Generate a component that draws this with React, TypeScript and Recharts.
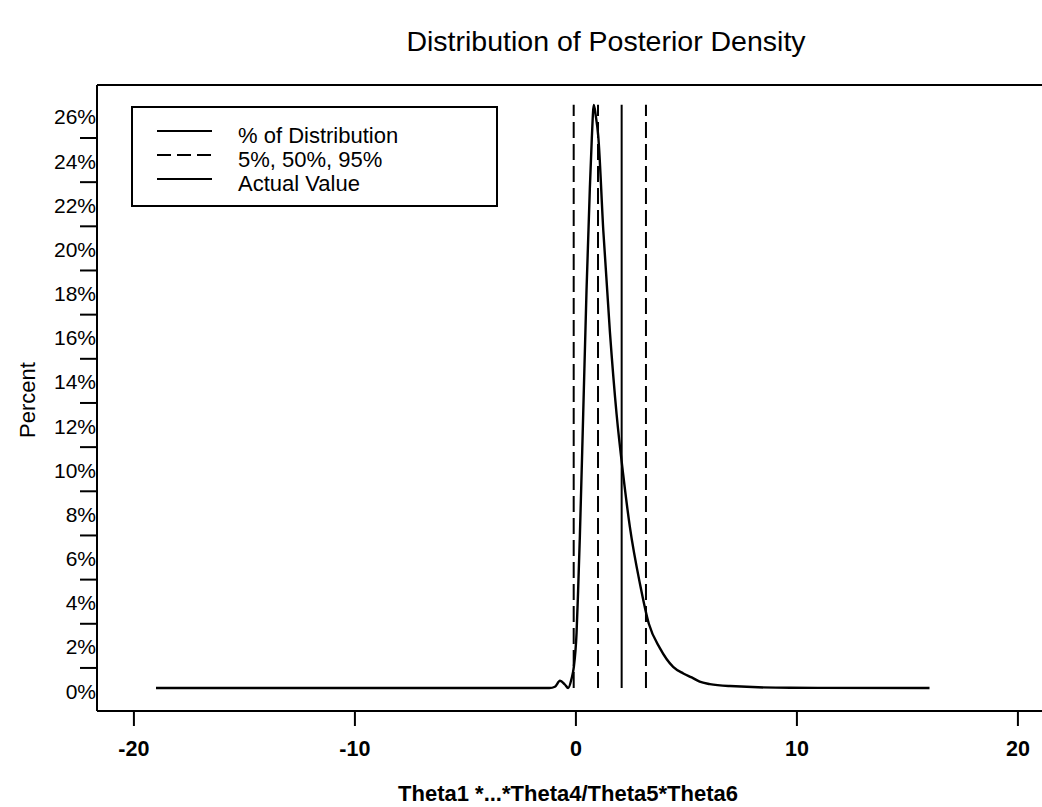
import React from "react";
import { LineChart, Line, XAxis, YAxis, ReferenceLine, Legend } from "recharts";

// ---- data ----
const thetaValues = [-19, -10, -2, -1.2, -0.95, -0.72, -0.5, -0.35, -0.2, -0.1, 0.03, 0.1, 0.18, 0.33, 0.48, 0.63, 0.72, 0.81, 0.9, 1.01, 1.24, 1.54, 1.84, 2.14, 2.44, 2.9, 3.3, 3.8, 4.4, 4.86, 5.24, 5.6, 6.06, 6.97, 9.7, 16];
const percentValues = [0.09, 0.09, 0.09, 0.09, 0.15, 0.42, 0.25, 0.09, 0.5, 1.0, 2.6, 4.5, 7.0, 12.5, 18.1, 22.7, 25.0, 26.5, 26.0, 25.1, 20.8, 16.2, 12.5, 9.75, 7.4, 4.8, 3.0, 1.9, 1.05, 0.75, 0.57, 0.38, 0.27, 0.18, 0.1, 0.09];
const quantileValues = [-0.1, 1.0, 3.17]; // 5%, 50%, 95%
const actualValue = 2.07;
const lineTop = 26.5;
const lineBottom = 0.09;
const xTicks = [-20, -10, 0, 10, 20];
const yTicks = Array.from({ length: 27 }, (_, i) => i);
const legendLabels = ["% of Distribution", "5%, 50%, 95%", "Actual Value"];
const titleText = "Distribution of Posterior Density";
const xTitle = "Theta1 *...*Theta4/Theta5*Theta6";
const yTitle = "Percent";

const chartData = thetaValues.map((x, i) => ({ x, y: percentValues[i] }));

const FONT = "'Liberation Sans', Arial, Helvetica, sans-serif";
const W = 1042;
const H = 807;
const Y_AXIS_W = 60;
const X_AXIS_H = 60;
const TOP_AXIS_H = 10;
// plot: left 97, top 85, right 1042, bottom 711
const M = { top: 85 - TOP_AXIS_H, right: 0, bottom: H - 711 - X_AXIS_H, left: 97 - Y_AXIS_W };

const YTick = (props: any) => {
  const { x, y, payload } = props;
  const v = payload.value;
  if (v % 2 === 1) {
    return <line x1={x - 17} x2={x} y1={y} y2={y} stroke="#000" strokeWidth={2} />;
  }
  return (
    <text x={x - 1} y={y + 1} textAnchor="end" dominantBaseline="central" fontSize={21} fontFamily={FONT} fill="#000">
      {v}%
    </text>
  );
};

const XTick = (props: any) => {
  const { x, y, payload } = props;
  return (
    <g>
      <line x1={x} x2={x} y1={y} y2={y + 15} stroke="#000" strokeWidth={2} />
      <text x={x} y={y + 38} textAnchor="middle" dominantBaseline="central" fontSize={21.5} fontWeight="bold" fontFamily={FONT} fill="#000">
        {payload.value}
      </text>
    </g>
  );
};

const LegendBox = () => (
  <svg width={367} height={101} style={{ display: "block" }}>
    <rect x={1} y={1} width={365} height={99} fill="#fff" stroke="#000" strokeWidth={2} />
    {legendLabels.map((label, i) => {
      const cy = 25 + i * 24;
      return (
        <g key={label}>
          <line x1={26} x2={81} y1={cy} y2={cy} stroke="#000" strokeWidth={2} strokeDasharray={i === 1 ? "14 6" : undefined} />
          <text x={107} y={cy + 4} dominantBaseline="central" fontSize={22} fontFamily={FONT} fill="#000">
            {label}
          </text>
        </g>
      );
    })}
  </svg>
);

export default function App() {
  return (
    <div style={{ position: "absolute", left: 0, top: 0, width: W, height: H, background: "#fff", fontFamily: FONT, overflow: "hidden" }}>
      <LineChart width={W} height={H} data={chartData} margin={M}>
        <XAxis
          dataKey="x"
          type="number"
          domain={[-21.67, 21.09]}
          allowDataOverflow
          ticks={xTicks}
          interval={0}
          height={X_AXIS_H}
          tickSize={0}
          tickMargin={0}
          tickLine={false}
          axisLine={{ stroke: "#000", strokeWidth: 2 }}
          tick={<XTick />}
        />
        <XAxis
          xAxisId="top"
          orientation="top"
          type="number"
          dataKey="x"
          domain={[-21.67, 21.09]}
          allowDataOverflow
          height={TOP_AXIS_H}
          tick={false}
          tickLine={false}
          axisLine={{ stroke: "#000", strokeWidth: 2 }}
        />
        <YAxis
          type="number"
          domain={[-0.95, 27.4]}
          allowDataOverflow
          ticks={yTicks}
          interval={0}
          width={Y_AXIS_W}
          tickSize={0}
          tickMargin={0}
          tickLine={false}
          axisLine={{ stroke: "#000", strokeWidth: 2 }}
          tick={<YTick />}
        />
        {quantileValues.map((q) => (
          <ReferenceLine
            key={q}
            segment={[{ x: q, y: lineBottom }, { x: q, y: lineTop }]}
            stroke="#000"
            strokeWidth={2}
            strokeDasharray="16 6"
          />
        ))}
        <ReferenceLine
          segment={[{ x: actualValue, y: lineBottom }, { x: actualValue, y: lineTop }]}
          stroke="#000"
          strokeWidth={2}
        />
        <Line type="monotone" dataKey="y" stroke="#000" strokeWidth={2.4} dot={false} isAnimationActive={false} />
        <Legend
          layout="vertical"
          align="center"
          verticalAlign="middle"
          wrapperStyle={{ left: 131, top: 106, width: 367, height: 101 }}
          content={() => <LegendBox />}
        />
      </LineChart>
      <svg width={W} height={H} style={{ position: "absolute", left: 0, top: 0, pointerEvents: "none" }}>
        <text x={606} y={41} textAnchor="middle" dominantBaseline="central" fontSize={28.5} fontFamily={FONT} fill="#000">
          {titleText}
        </text>
        <text x={568} y={793} textAnchor="middle" dominantBaseline="central" fontSize={22} fontWeight="bold" fontFamily={FONT} fill="#000">
          {xTitle}
        </text>
        <text x={27} y={400} textAnchor="middle" dominantBaseline="central" fontSize={22} fontFamily={FONT} fill="#000" transform="rotate(-90 27 400)">
          {yTitle}
        </text>
      </svg>
    </div>
  );
}
